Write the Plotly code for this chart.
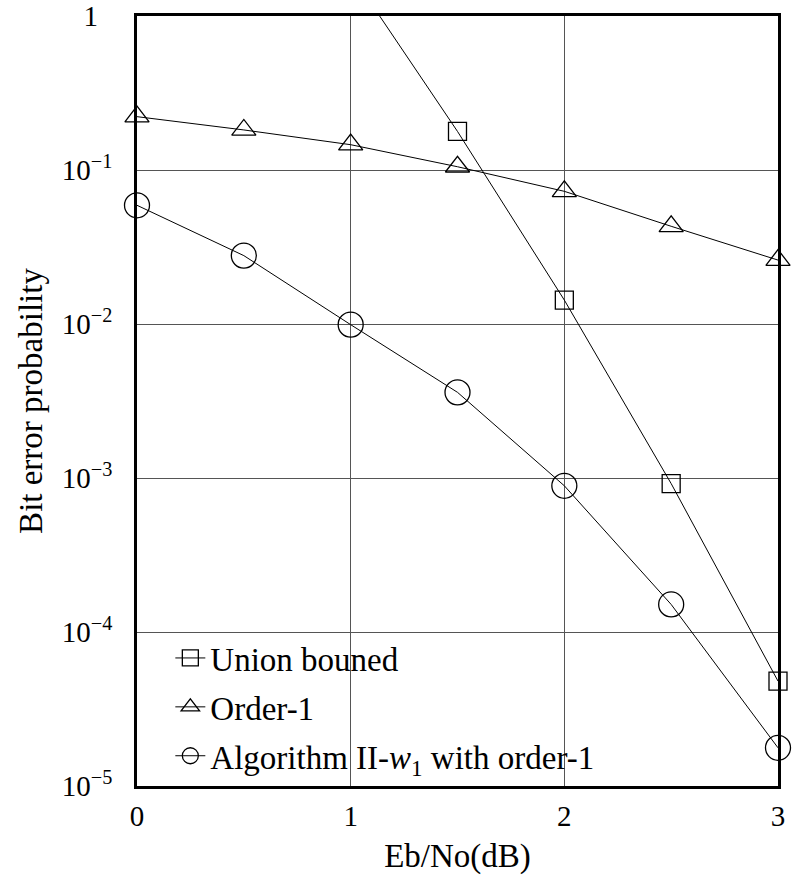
import plotly.graph_objects as go

# Eb/No grid (dB)
ebno = [0, 0.5, 1, 1.5, 2, 2.5, 3]

# Union bound: starts above 1 at 1 dB, enters the frame from the top
union_x = [1, 1.5, 2, 2.5, 3]
union_ber = [1.9, 0.178, 0.0143, 9.2e-4, 4.8e-5]

# Order-1 decoding
order1_ber = [0.222, 0.182, 0.146, 0.105, 0.0727, 0.0431, 0.026]

# Algorithm II-w1 with order-1
alg2_ber = [0.059, 0.0278, 0.0099, 0.0036, 8.9e-4, 1.51e-4, 1.77e-5]

y_tickvals = [1e-5, 1e-4, 1e-3, 1e-2, 1e-1, 1]
# the lone "1" is padded so it sits centred over the 10^k labels
y_ticktext = ["10<sup>−5</sup>", "10<sup>−4</sup>", "10<sup>−3</sup>",
              "10<sup>−2</sup>", "10<sup>−1</sup>", "1&nbsp;&nbsp;"]
x_tickvals = [0, 1, 2, 3]

FONT = "Liberation Serif"
FS_TICK = 29
FS_TEXT = 33
INK = "black"

fig = go.Figure()

fig.add_trace(go.Scatter(
    x=union_x, y=union_ber, name="Union bouned", mode="lines+markers",
    legendgroup="a",
    line=dict(color=INK, width=1),
    marker=dict(symbol="square-open", size=18, color=INK, line=dict(width=1.3)),
    cliponaxis=False,
))
fig.add_trace(go.Scatter(
    x=ebno, y=order1_ber, name="Order-1", mode="lines+markers",
    legendgroup="b",
    line=dict(color=INK, width=1),
    marker=dict(symbol="triangle-up-open", size=21, color=INK, line=dict(width=1.3)),
    cliponaxis=False,
))
fig.add_trace(go.Scatter(
    x=ebno, y=alg2_ber, name="Algorithm II-<i>w</i><sub>1</sub> with order-1",
    mode="lines+markers",
    legendgroup="c",
    line=dict(color=INK, width=1),
    marker=dict(symbol="circle-open", size=25, color=INK, line=dict(width=1.3)),
    cliponaxis=False,
))

fig.update_layout(
    width=792, height=890,
    margin=dict(l=137, r=14, t=16, b=104, autoexpand=False),
    paper_bgcolor="white", plot_bgcolor="white",
    font=dict(family=FONT, size=FS_TICK, color=INK),
    showlegend=True,
    legend=dict(
        x=0.052, y=0.2026, xanchor="left", yanchor="top",
        bgcolor="rgba(0,0,0,0)", borderwidth=0,
        tracegroupgap=3, font=dict(family=FONT, size=FS_TEXT, color=INK),
    ),
    xaxis=dict(
        range=[0, 3], tickvals=x_tickvals, automargin=False,
        showgrid=True, gridcolor="#555", gridwidth=1,
        showline=True, linecolor=INK, linewidth=2.5, mirror=True,
        ticks="", zeroline=False, ticklabelstandoff=2,
        title=dict(text="Eb/No(dB)", standoff=14, font=dict(size=FS_TEXT)),
        tickfont=dict(size=FS_TICK),
        layer="below traces",
    ),
    yaxis=dict(
        type="log", range=[-5, 0], automargin=False,
        tickvals=y_tickvals, ticktext=y_ticktext,
        showgrid=True, gridcolor="#555", gridwidth=1,
        showline=True, linecolor=INK, linewidth=2.5, mirror=True,
        ticks="", zeroline=False, ticklabelstandoff=16,
        title=dict(text="Bit error probability", standoff=10, font=dict(size=FS_TEXT)),
        tickfont=dict(size=FS_TICK),
        layer="below traces",
    ),
)

fig.write_html("out.html")
